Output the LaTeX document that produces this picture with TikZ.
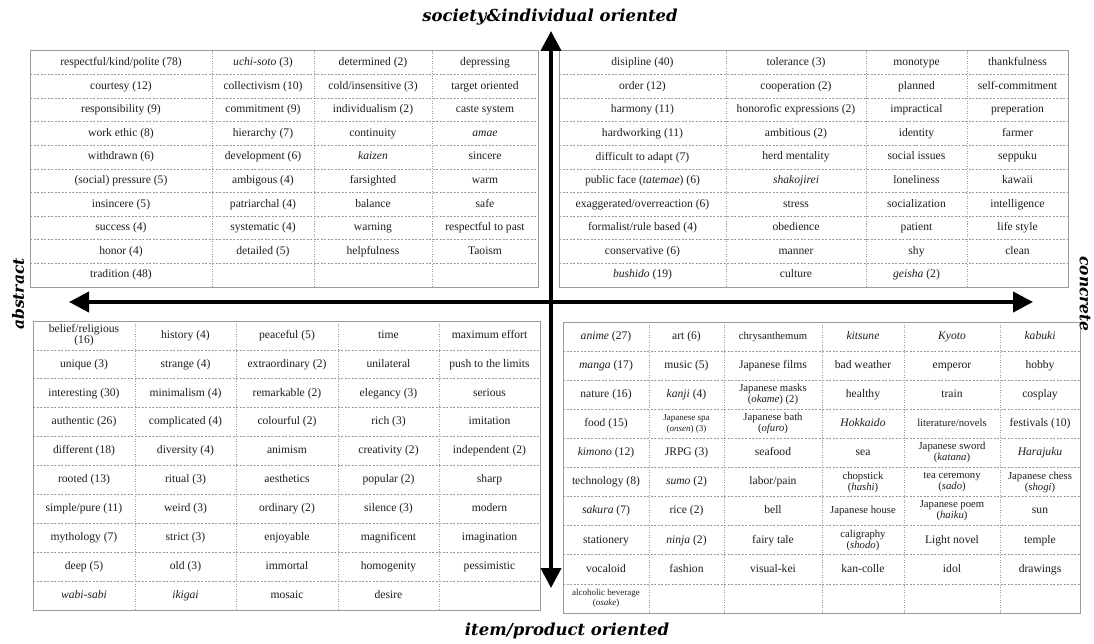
\documentclass[tikz,border=0pt]{standalone}
\usepackage{fontspec}
\setmainfont{Liberation Serif}
\newfontfamily\axisfont{DejaVu Serif}
\usetikzlibrary{arrows.meta}
\definecolor{gridgray}{HTML}{9A9A9A}
\definecolor{txt}{HTML}{1E1E1E}
\tikzset{
  border/.style={draw=gridgray, line width=1pt},
  hline/.style={draw=gridgray, line width=0.7pt, dash pattern=on 2pt off 1.5pt},
  vline/.style={draw=gridgray, line width=0.7pt, dash pattern=on 1pt off 1.5pt},
  cell/.style={text=txt, align=center, inner sep=0pt, font=\fontsize{11.6}{11}\selectfont,
    execute at begin node=\vphantom{(Ag}, execute at end node=\vphantom{(Ag}},
  cellsm/.style={cell, font=\fontsize{9}{9.5}\selectfont},
  axis/.style={line width=4pt, {Triangle[length=20pt,width=20pt]}-{Triangle[length=20pt,width=20pt]}},
  axlabel/.style={text=black, inner sep=0pt, font=\fontsize{16.5}{17}\selectfont\axisfont\bfseries\itshape},
  sidelabel/.style={axlabel, font=\fontsize{15.5}{16}\selectfont\axisfont\bfseries\itshape},
}
\newcommand\rowTL[5]{\pgfmathsetmacro\rowy{51+(#1-0.5)*23.6}
  \node[cell] (tl-#1-1) at (121,\rowy) {#2};
  \node[cell] (tl-#1-2) at (263,\rowy) {#3};
  \node[cell] (tl-#1-3) at (373,\rowy) {#4};
  \node[cell] (tl-#1-4) at (485,\rowy) {#5};}
\newcommand\rowTR[5]{\pgfmathsetmacro\rowy{51+(#1-0.5)*23.6}
  \node[cell] (tr-#1-1) at (642.5,\rowy) {#2};
  \node[cell] (tr-#1-2) at (796,\rowy) {#3};
  \node[cell] (tr-#1-3) at (916.5,\rowy) {#4};
  \node[cell] (tr-#1-4) at (1017.5,\rowy) {#5};}
\newcommand\rowBL[6]{\pgfmathsetmacro\rowy{321+(#1-0.5)*28.9}
  \node[cell] (bl-#1-1) at (84,\rowy) {#2};
  \node[cell] (bl-#1-2) at (185.5,\rowy) {#3};
  \node[cell] (bl-#1-3) at (287,\rowy) {#4};
  \node[cell] (bl-#1-4) at (388.5,\rowy) {#5};
  \node[cell] (bl-#1-5) at (489.5,\rowy) {#6};}
\newcommand\rowBR[7]{\pgfmathsetmacro\rowy{322+(#1-0.5)*29.1}
  \node[cell] (br-#1-1) at (606,\rowy) {#2};
  \node[cell] (br-#1-2) at (686.5,\rowy) {#3};
  \node[cell] (br-#1-3) at (773,\rowy) {#4};
  \node[cell] (br-#1-4) at (863,\rowy) {#5};
  \node[cell] (br-#1-5) at (952,\rowy) {#6};
  \node[cell] (br-#1-6) at (1040,\rowy) {#7};}
\newcommand\smc{\fontsize{10.7}{10.7}\selectfont}
\newcommand\tnc{\fontsize{9}{9.5}\selectfont}
\begin{document}
\begin{tikzpicture}[x=1pt,y=-1pt]
\useasboundingbox (0,0) rectangle (1094,644);
\fill[white] (0,0) rectangle (1094,644);

% ---------- top-left table
\foreach \x in {212,314,432} \draw[vline] (\x,51) -- (\x,287);
\foreach \i in {1,...,9} \draw[hline] (30,{51+\i*23.6}) -- (538,{51+\i*23.6});
\draw[border] (30,51) rectangle (538,287);
\rowTL{1}{respectful/kind/polite (78)}{\textit{uchi-soto} (3)}{determined (2)}{depressing}
\rowTL{2}{courtesy (12)}{collectivism (10)}{cold/insensitive (3)}{target oriented}
\rowTL{3}{responsibility (9)}{commitment (9)}{individualism (2)}{caste system}
\rowTL{4}{work ethic (8)}{hierarchy (7)}{continuity}{\textit{amae}}
\rowTL{5}{withdrawn (6)}{development (6)}{\textit{kaizen}}{sincere}
\rowTL{6}{(social) pressure (5)}{ambigous (4)}{farsighted}{warm}
\rowTL{7}{insincere (5)}{patriarchal (4)}{balance}{safe}
\rowTL{8}{success (4)}{systematic (4)}{warning}{respectful to past}
\rowTL{9}{honor (4)}{detailed (5)}{helpfulness}{Taoism}
\pgfmathsetmacro\rowy{51+9.5*23.6}
\node[cell] (tl-10-1) at (121,\rowy) {tradition (48)};

% ---------- top-right table
\foreach \x in {726,866,967} \draw[vline] (\x,51) -- (\x,287);
\foreach \i in {1,...,9} \draw[hline] (559,{51+\i*23.6}) -- (1068,{51+\i*23.6});
\draw[border] (559,51) rectangle (1068,287);
\rowTR{1}{disipline (40)}{tolerance (3)}{monotype}{thankfulness}
\rowTR{2}{order (12)}{cooperation (2)}{planned}{self-commitment}
\rowTR{3}{harmony (11)}{honorofic expressions (2)}{impractical}{preperation}
\rowTR{4}{hardworking (11)}{ambitious (2)}{identity}{farmer}
\rowTR{5}{difficult to adapt (7)}{herd mentality}{social issues}{seppuku}
\rowTR{6}{public face (\textit{tatemae}) (6)}{\textit{shakojirei}}{loneliness}{kawaii}
\rowTR{7}{exaggerated/overreaction (6)}{stress}{socialization}{intelligence}
\rowTR{8}{formalist/rule based (4)}{obedience}{patient}{life style}
\rowTR{9}{conservative (6)}{manner}{shy}{clean}
\pgfmathsetmacro\rowy{51+9.5*23.6}
\node[cell] (tr-10-1) at (642.5,\rowy) {\textit{bushido} (19)};
\node[cell] (tr-10-2) at (796,\rowy) {culture};
\node[cell] (tr-10-3) at (916.5,\rowy) {\textit{geisha} (2)};

% ---------- bottom-left table
\foreach \x in {135,236,338,439} \draw[vline] (\x,321) -- (\x,610);
\foreach \i in {1,...,9} \draw[hline] (33,{321+\i*28.9}) -- (540,{321+\i*28.9});
\draw[border] (33,321) rectangle (540,610);
\rowBL{1}{belief/religious\\(16)}{history (4)}{peaceful (5)}{time}{maximum effort}
\rowBL{2}{unique (3)}{strange (4)}{extraordinary (2)}{unilateral}{push to the limits}
\rowBL{3}{interesting (30)}{minimalism (4)}{remarkable (2)}{elegancy (3)}{serious}
\rowBL{4}{authentic (26)}{complicated (4)}{colourful (2)}{rich (3)}{imitation}
\rowBL{5}{different (18)}{diversity (4)}{animism}{creativity (2)}{independent (2)}
\rowBL{6}{rooted (13)}{ritual (3)}{aesthetics}{popular (2)}{sharp}
\rowBL{7}{simple/pure (11)}{weird (3)}{ordinary (2)}{silence (3)}{modern}
\rowBL{8}{mythology (7)}{strict (3)}{enjoyable}{magnificent}{imagination}
\rowBL{9}{deep (5)}{old (3)}{immortal}{homogenity}{pessimistic}
\pgfmathsetmacro\rowy{321+9.5*28.9}
\node[cell] (bl-10-1) at (84,\rowy) {\textit{wabi-sabi}};
\node[cell] (bl-10-2) at (185.5,\rowy) {\textit{ikigai}};
\node[cell] (bl-10-3) at (287,\rowy) {mosaic};
\node[cell] (bl-10-4) at (388.5,\rowy) {desire};

% ---------- bottom-right table
\foreach \x in {649,724,822,904,1000} \draw[vline] (\x,322) -- (\x,613);
\foreach \i in {1,...,9} \draw[hline] (563,{322+\i*29.1}) -- (1080,{322+\i*29.1});
\draw[border] (563,322) rectangle (1080,613);
\rowBR{1}{\textit{anime} (27)}{art (6)}{\smc chrysanthemum}{\textit{kitsune}}{\textit{Kyoto}}{\textit{kabuki}}
\rowBR{2}{\textit{manga} (17)}{music (5)}{Japanese films}{bad weather}{emperor}{hobby}
\rowBR{3}{nature (16)}{\textit{kanji} (4)}{\smc Japanese masks\\\smc(\textit{okame}) (2)}{healthy}{train}{cosplay}
\rowBR{4}{food (15)}{\tnc Japanese spa\\\tnc(\textit{onsen}) (3)}{\smc Japanese bath\\\smc(\textit{ofuro})}{\textit{Hokkaido}}{\smc literature/novels}{festivals (10)}
\rowBR{5}{\textit{kimono} (12)}{JRPG (3)}{seafood}{sea}{\smc Japanese sword\\\smc(\textit{katana})}{\textit{Harajuku}}
\rowBR{6}{technology (8)}{\textit{sumo} (2)}{labor/pain}{\smc chopstick\\\smc(\textit{hashi})}{\smc tea ceremony\\\smc(\textit{sado})}{\smc Japanese chess\\\smc(\textit{shogi})}
\rowBR{7}{\textit{sakura} (7)}{rice (2)}{bell}{\smc Japanese house}{\smc Japanese poem\\\smc(\textit{haiku})}{sun}
\rowBR{8}{stationery}{\textit{ninja} (2)}{fairy tale}{\smc caligraphy\\\smc(\textit{shodo})}{Light novel}{temple}
\rowBR{9}{vocaloid}{fashion}{visual-kei}{kan-colle}{idol}{drawings}
\pgfmathsetmacro\rowy{322+9.5*29.1}
\node[cellsm] (br-10-1) at (606,\rowy) {alcoholic beverage\\(\textit{osake})};

% ---------- axes
\coordinate (L) at (69,302);
\coordinate (R) at (1033,302);
\coordinate (T) at (551,31);
\coordinate (B) at (551,588);
\draw[axis] (L) -- (R);
\draw[axis] (T) -- (B);

\node[axlabel] (top) at (550,17) {society\&individual oriented};
\node[axlabel] (bottom) at (567,631) {item/product oriented};
\node[sidelabel, rotate=90] (left) at (18,294) {abstract};
\node[sidelabel, rotate=-90] (right) at (1085,294) {concrete};
\end{tikzpicture}
\end{document}
